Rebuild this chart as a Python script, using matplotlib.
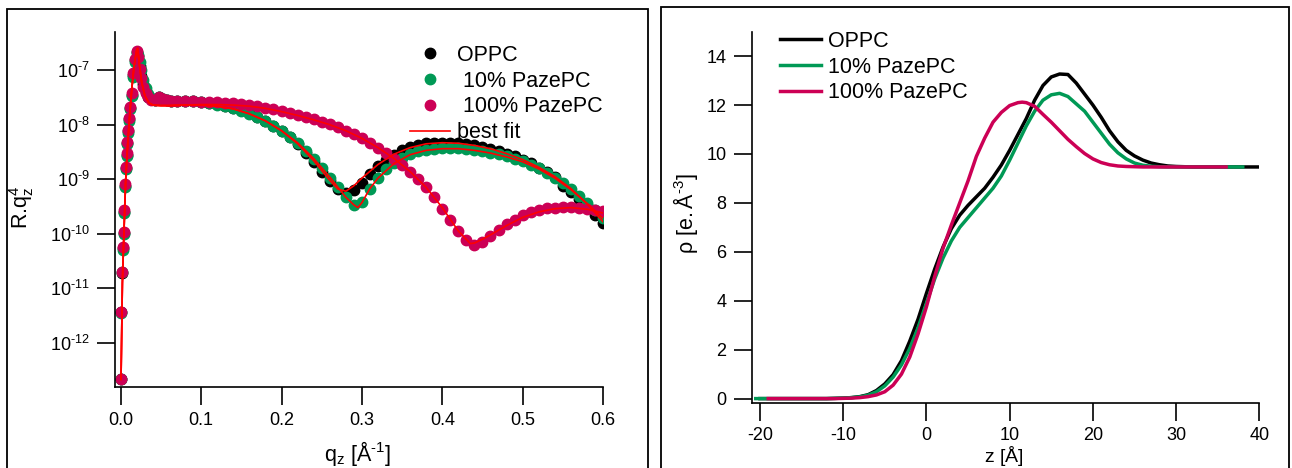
import numpy as np
import matplotlib
matplotlib.use("Agg")
import matplotlib.pyplot as plt
from matplotlib.patches import Rectangle

plt.rcParams['font.family'] = ['Liberation Sans', 'DejaVu Sans']
plt.rcParams['mathtext.fontset'] = 'custom'
plt.rcParams['mathtext.rm'] = 'Liberation Sans'
plt.rcParams['mathtext.it'] = 'Liberation Sans:italic'
plt.rcParams['mathtext.bf'] = 'Liberation Sans:bold'
plt.rcParams['axes.unicode_minus'] = False

BLACK = '#000000'
GREEN = '#009955'
MAGENTA = '#CC0055'
RED = '#FF0000'

labels = ['OPPC', ' 10% PazePC', ' 100% PazePC']

# ---- reflectivity data (log10 of R.qz^4) ----
q_data = [0.0003, 0.0008, 0.0018, 0.0031, 0.0040, 0.0044, 0.0052, 0.0061, 0.0073, 0.0081,
          0.0093, 0.0102, 0.0114, 0.0135, 0.0156, 0.0178, 0.0198, 0.0215, 0.0235, 0.0255,
          0.0280, 0.031, 0.034, 0.038, 0.042, 0.047, 0.052, 0.057, 0.062, 0.070,
          0.08, 0.09, 0.10, 0.11, 0.12, 0.13, 0.14, 0.15, 0.16, 0.17,
          0.18, 0.19, 0.20, 0.21, 0.22, 0.23, 0.24, 0.25, 0.26, 0.27,
          0.28, 0.29, 0.30, 0.31, 0.32, 0.33, 0.34, 0.35, 0.36, 0.37,
          0.38, 0.39, 0.40, 0.41, 0.42, 0.43, 0.44, 0.45, 0.46, 0.47,
          0.48, 0.49, 0.50, 0.51, 0.52, 0.53, 0.54, 0.55, 0.56, 0.57,
          0.58, 0.59, 0.60]

oppc_log = [-12.67, -11.44, -10.72, -10.27, -9.98, -9.60, -9.12, -8.80, -8.55, -8.34,
            -8.12, -7.90, -7.70, -7.45, -7.09, -6.82, -6.66, -6.74, -6.93, -7.10,
            -7.26, -7.40, -7.49, -7.53, -7.55, -7.49, -7.53, -7.55, -7.56, -7.56,
            -7.56, -7.57, -7.58, -7.60, -7.62, -7.65, -7.69, -7.73, -7.79, -7.85,
            -7.93, -8.02, -8.12, -8.23, -8.36, -8.51, -8.68, -8.86, -9.04, -9.18,
            -9.26, -9.20, -9.06, -8.90, -8.76, -8.64, -8.55, -8.47, -8.41, -8.37,
            -8.34, -8.33, -8.33, -8.33, -8.34, -8.36, -8.38, -8.41, -8.44, -8.48,
            -8.53, -8.58, -8.64, -8.71, -8.79, -8.87, -8.96, -9.12, -9.23, -9.36,
            -9.48, -9.65, -9.80]

paze10_log = [-12.67, -11.45, -10.70, -10.30, -10.00, -9.62, -9.15, -8.82, -8.57, -8.36,
              -8.15, -7.93, -7.72, -7.47, -7.12, -6.85, -6.68, -6.72, -6.85, -7.00,
              -7.18, -7.33, -7.44, -7.51, -7.54, -7.50, -7.53, -7.55, -7.56, -7.56,
              -7.56, -7.57, -7.58, -7.60, -7.63, -7.66, -7.70, -7.75, -7.80, -7.86,
              -7.93, -8.02, -8.12, -8.22, -8.34, -8.48, -8.63, -8.80, -8.97, -9.15,
              -9.33, -9.48, -9.42, -9.17, -8.97, -8.82, -8.70, -8.61, -8.54, -8.49,
              -8.46, -8.44, -8.43, -8.43, -8.43, -8.44, -8.46, -8.48, -8.51, -8.54,
              -8.58, -8.62, -8.67, -8.73, -8.80, -8.88, -8.97, -9.07, -9.18, -9.30,
              -9.43, -9.57, -9.71]

paze100_log = [-12.67, -11.43, -10.71, -10.24, -9.96, -9.56, -9.09, -8.77, -8.52, -8.31,
               -8.10, -7.88, -7.67, -7.42, -7.06, -6.80, -6.64, -6.75, -6.97, -7.15,
               -7.30, -7.42, -7.50, -7.54, -7.55, -7.49, -7.53, -7.55, -7.56, -7.56,
               -7.57, -7.57, -7.58, -7.58, -7.59, -7.60, -7.61, -7.62, -7.64, -7.66,
               -7.69, -7.72, -7.75, -7.78, -7.82, -7.86, -7.90, -7.95, -7.99, -8.05,
               -8.11, -8.17, -8.24, -8.33, -8.42, -8.52, -8.62, -8.74, -8.87, -9.00,
               -9.15, -9.33, -9.55, -9.75, -9.95, -10.12, -10.20, -10.16, -10.04, -9.93,
               -9.83, -9.74, -9.66, -9.60, -9.56, -9.53, -9.52, -9.51, -9.51, -9.53,
               -9.55, -9.57, -9.58]

# ---- best fits (log10) ----
q_fit_oppc = [0.0003, 0.002, 0.004, 0.006, 0.008, 0.010, 0.012, 0.014, 0.016, 0.018,
              0.020, 0.021, 0.023, 0.026, 0.030, 0.035, 0.040, 0.050, 0.060, 0.080,
              0.10, 0.12, 0.14, 0.16, 0.18, 0.20, 0.22, 0.24, 0.26, 0.27,
              0.28, 0.29, 0.30, 0.32, 0.34, 0.36, 0.38, 0.40, 0.42, 0.44,
              0.46, 0.48, 0.50, 0.52, 0.54, 0.56, 0.58, 0.60]
fit_oppc = [-12.67, -10.9, -9.95, -9.05, -8.5, -8.05, -7.65, -7.3, -7.0, -6.78,
            -6.62, -6.6, -6.88, -7.22, -7.47, -7.6, -7.64, -7.65, -7.65, -7.64,
            -7.64, -7.66, -7.71, -7.80, -7.93, -8.11, -8.35, -8.66, -9.02, -9.18,
            -9.22, -9.12, -8.98, -8.73, -8.54, -8.42, -8.35, -8.33, -8.34, -8.38,
            -8.44, -8.53, -8.64, -8.78, -8.95, -9.17, -9.45, -9.78]

q_fit_paze10 = [0.0003, 0.002, 0.004, 0.006, 0.008, 0.010, 0.012, 0.014, 0.016, 0.018,
                0.020, 0.021, 0.023, 0.026, 0.030, 0.035, 0.040, 0.050, 0.060, 0.080,
                0.10, 0.12, 0.14, 0.16, 0.18, 0.20, 0.22, 0.24, 0.26, 0.28,
                0.29, 0.295, 0.30, 0.31, 0.32, 0.34, 0.36, 0.38, 0.40, 0.42,
                0.44, 0.46, 0.48, 0.50, 0.52, 0.54, 0.56, 0.58, 0.60]
fit_paze10 = [-12.67, -10.9, -9.95, -9.05, -8.5, -8.05, -7.65, -7.3, -7.0, -6.78,
              -6.62, -6.6, -6.88, -7.22, -7.47, -7.6, -7.64, -7.65, -7.65, -7.64,
              -7.64, -7.66, -7.71, -7.80, -7.93, -8.11, -8.33, -8.62, -8.96, -9.33,
              -9.47, -9.52, -9.43, -9.17, -8.98, -8.71, -8.55, -8.47, -8.44, -8.44,
              -8.47, -8.52, -8.59, -8.68, -8.81, -8.98, -9.19, -9.44, -9.72]

q_fit_paze100 = [0.0003, 0.002, 0.004, 0.006, 0.008, 0.010, 0.012, 0.014, 0.016, 0.018,
                 0.020, 0.021, 0.023, 0.026, 0.030, 0.035, 0.040, 0.050, 0.060, 0.080,
                 0.10, 0.12, 0.14, 0.16, 0.18, 0.20, 0.22, 0.24, 0.26, 0.28,
                 0.30, 0.32, 0.34, 0.36, 0.38, 0.40, 0.42, 0.435, 0.44, 0.45,
                 0.46, 0.48, 0.50, 0.52, 0.54, 0.56, 0.58, 0.60]
fit_paze100 = [-12.67, -10.9, -9.95, -9.05, -8.5, -8.05, -7.65, -7.3, -7.0, -6.78,
               -6.62, -6.6, -6.88, -7.22, -7.47, -7.6, -7.64, -7.65, -7.65, -7.64,
               -7.63, -7.63, -7.64, -7.66, -7.70, -7.76, -7.83, -7.91, -8.00, -8.11,
               -8.25, -8.42, -8.62, -8.86, -9.15, -9.52, -9.95, -10.18, -10.17, -10.10,
               -10.02, -9.85, -9.70, -9.60, -9.54, -9.52, -9.55, -9.62]

ytick_exps = [-12, -11, -10, -9, -8, -7]
qticks = [0.0, 0.1, 0.2, 0.3, 0.4, 0.5, 0.6]

# ---- electron density profiles ----
z_oppc = [-20, -19, -18, -17, -16, -15, -14, -13, -12, -11, -10, -9, -8, -7, -6, -5, -4, -3, -2, -1,
          0, 1, 2, 3, 4, 5, 6, 7, 8, 9, 10, 11, 12, 13, 14, 15, 16, 17, 18, 19,
          20, 21, 22, 23, 24, 25, 26, 27, 28, 29, 30, 31, 32, 33, 34, 35, 36, 37, 38, 39, 40]
rho_oppc = [0.0, 0.0, 0.0, 0.0, 0.0, 0.0, 0.0, 0.0, 0.0, 0.01, 0.02, 0.04, 0.08, 0.16, 0.33, 0.60, 0.98, 1.55, 2.35, 3.25,
            4.30, 5.30, 6.20, 6.95, 7.50, 7.90, 8.25, 8.60, 9.05, 9.55, 10.15, 10.80, 11.45, 12.20, 12.80, 13.15, 13.27, 13.25, 12.90, 12.45,
            12.00, 11.50, 10.95, 10.50, 10.15, 9.92, 9.75, 9.63, 9.56, 9.51, 9.49, 9.48, 9.47, 9.47, 9.47, 9.47, 9.47, 9.47, 9.47, 9.47, 9.47]

z_paze10 = [-20.5, -20, -19, -18, -17, -16, -15, -14, -13, -12, -11, -10, -9, -8, -7, -6, -5, -4, -3, -2, -1,
            0, 1, 2, 3, 4, 5, 6, 7, 8, 9, 10, 11, 12, 13, 14, 15, 16, 17, 18, 19,
            20, 21, 22, 23, 24, 25, 26, 27, 28, 29, 30, 31, 32, 33, 34, 35, 36, 37, 38]
rho_paze10 = [0.0, 0.0, 0.0, 0.0, 0.0, 0.0, 0.0, 0.0, 0.0, 0.0, 0.01, 0.02, 0.04, 0.07, 0.14, 0.28, 0.52, 0.88, 1.38, 2.05, 2.90,
              3.90, 4.90, 5.75, 6.45, 7.00, 7.40, 7.80, 8.20, 8.60, 9.10, 9.75, 10.45, 11.15, 11.75, 12.20, 12.42, 12.48, 12.35, 12.05, 11.75,
              11.30, 10.85, 10.40, 10.05, 9.80, 9.63, 9.54, 9.50, 9.48, 9.47, 9.47, 9.47, 9.47, 9.47, 9.47, 9.47, 9.47, 9.47, 9.47]

z_paze100 = [-19, -18, -17, -16, -15, -14, -13, -12, -11, -10, -9, -8, -7, -6, -5, -4, -3, -2, -1,
             0, 1, 2, 3, 4, 5, 6, 7, 8, 9, 10, 11, 11.5, 12, 13, 14, 15, 16, 17, 18, 19,
             20, 21, 22, 23, 24, 25, 26, 27, 28, 29, 30, 31, 32, 33, 34, 35, 36]
rho_paze100 = [0.0, 0.0, 0.0, 0.0, 0.0, 0.0, 0.0, 0.0, 0.0, 0.01, 0.02, 0.04, 0.08, 0.15, 0.28, 0.55, 1.00, 1.70, 2.65,
               3.75, 5.00, 6.15, 7.10, 8.00, 8.90, 9.90, 10.65, 11.30, 11.70, 11.98, 12.10, 12.12, 12.10, 11.95, 11.62, 11.30, 10.95, 10.60, 10.30, 10.02,
               9.80, 9.65, 9.56, 9.51, 9.49, 9.48, 9.47, 9.47, 9.47, 9.47, 9.47, 9.47, 9.47, 9.47, 9.47, 9.47, 9.47]

zticks = [-20, -10, 0, 10, 20, 30, 40]
rhoticks = [0, 2, 4, 6, 8, 10, 12, 14]

W, H = 1292, 468
fig = plt.figure(figsize=(W / 100, H / 100), dpi=100)

# outer panel frames
fig.add_artist(Rectangle((7 / W, -0.1), 641 / W, 1.1 - 9 / H, transform=fig.transFigure,
                         fill=False, lw=1.3, ec='black'))
fig.add_artist(Rectangle((661 / W, -0.1), 628 / W, 1.1 - 7 / H, transform=fig.transFigure,
                         fill=False, lw=1.3, ec='black'))

# ---------- left panel ----------
ax1 = fig.add_axes([114.6 / W, 1 - 387 / H, (603 - 114.6) / W, (387 - 32) / H])
for vals, col, lab in [(oppc_log, BLACK, labels[0]), (paze10_log, GREEN, labels[1]),
                       (paze100_log, MAGENTA, labels[2])]:
    ax1.plot(q_data, 10.0 ** np.array(vals), 'o', ms=7.5, color=col, mec=col, label=lab)
ax1.plot(q_fit_oppc, 10.0 ** np.array(fit_oppc), '-', color=RED, lw=1.2, label='best fit')
ax1.plot(q_fit_paze10, 10.0 ** np.array(fit_paze10), '-', color=RED, lw=1.2)
ax1.plot(q_fit_paze100, 10.0 ** np.array(fit_paze100), '-', color=RED, lw=1.2)
ax1.set_yscale('log')
ax1.set_xlim(-0.0077, 0.6)
ax1.set_ylim(10 ** -12.81, 10 ** -6.30)
ax1.set_yticks([10.0 ** e for e in ytick_exps])
ax1.set_yticklabels([r'$\mathregular{10^{‐%d}}$' % -e for e in ytick_exps])
ax1.yaxis.set_minor_locator(matplotlib.ticker.NullLocator())
ax1.set_xticks(qticks)
ax1.set_xticklabels(['%.1f' % t for t in qticks])
ax1.tick_params(axis='y', direction='out', length=13, width=1.2, labelsize=13, pad=5)
ax1.tick_params(axis='x', direction='out', length=13, width=1.2, labelsize=13, pad=5)
ax1.legend(loc='upper left', bbox_to_anchor=(410 / W, 1 - 45 / H), bbox_transform=fig.transFigure,
           frameon=False, fontsize=15.5, handlelength=1.86, handletextpad=0.33,
           labelspacing=0.22, borderpad=0, borderaxespad=0, markerscale=1.0)
fig.text(22 / W, 1 - 207 / H, r'R.q$\mathregular{_z^4}$', rotation=90, ha='center', va='center', fontsize=15.5)
fig.text(358 / W, 1 - 454 / H, r'$\mathregular{q_z\ [Å^{‐1}]}$', ha='center', va='center', fontsize=15.5)

# ---------- right panel ----------
ax2 = fig.add_axes([751.6 / W, 1 - 403 / H, (1259.4 - 751.6) / W, (403 - 31.7) / H])
ax2.plot(z_oppc, rho_oppc, '-', color=BLACK, lw=2.5, label='OPPC')
ax2.plot(z_paze10, rho_paze10, '-', color=GREEN, lw=2.5, label='10% PazePC')
ax2.plot(z_paze100, rho_paze100, '-', color=MAGENTA, lw=2.5, label='100% PazePC')
ax2.set_xlim(-21, 40)
ax2.set_ylim(-0.18, 15)
ax2.set_xticks(zticks)
ax2.set_yticks(rhoticks)
ax2.tick_params(axis='y', direction='out', length=13, width=1.2, labelsize=13, pad=5)
ax2.tick_params(axis='x', direction='out', length=13, width=1.2, labelsize=13, pad=4)
ax2.legend(loc='upper left', bbox_to_anchor=(780 / W, 1 - 31 / H), bbox_transform=fig.transFigure,
           frameon=False, fontsize=15.5, handlelength=1.9, handletextpad=0.33,
           labelspacing=0.22, borderpad=0, borderaxespad=0)
fig.text(686 / W, 1 - 214 / H, r'$\mathregular{ρ\ [e.Å^{‐3}]}$', rotation=90, ha='center', va='center', fontsize=15.5)
fig.text(1004 / W, 1 - 456 / H, r'$\mathregular{z\ [Å]}$', ha='center', va='center', fontsize=14)

for ax in (ax1, ax2):
    ax.spines['top'].set_visible(False)
    ax.spines['right'].set_visible(False)
    ax.spines['left'].set_linewidth(1.2)
    ax.spines['bottom'].set_linewidth(1.2)
    ax.set_facecolor('none')

fig.savefig('out.png', dpi=100)
